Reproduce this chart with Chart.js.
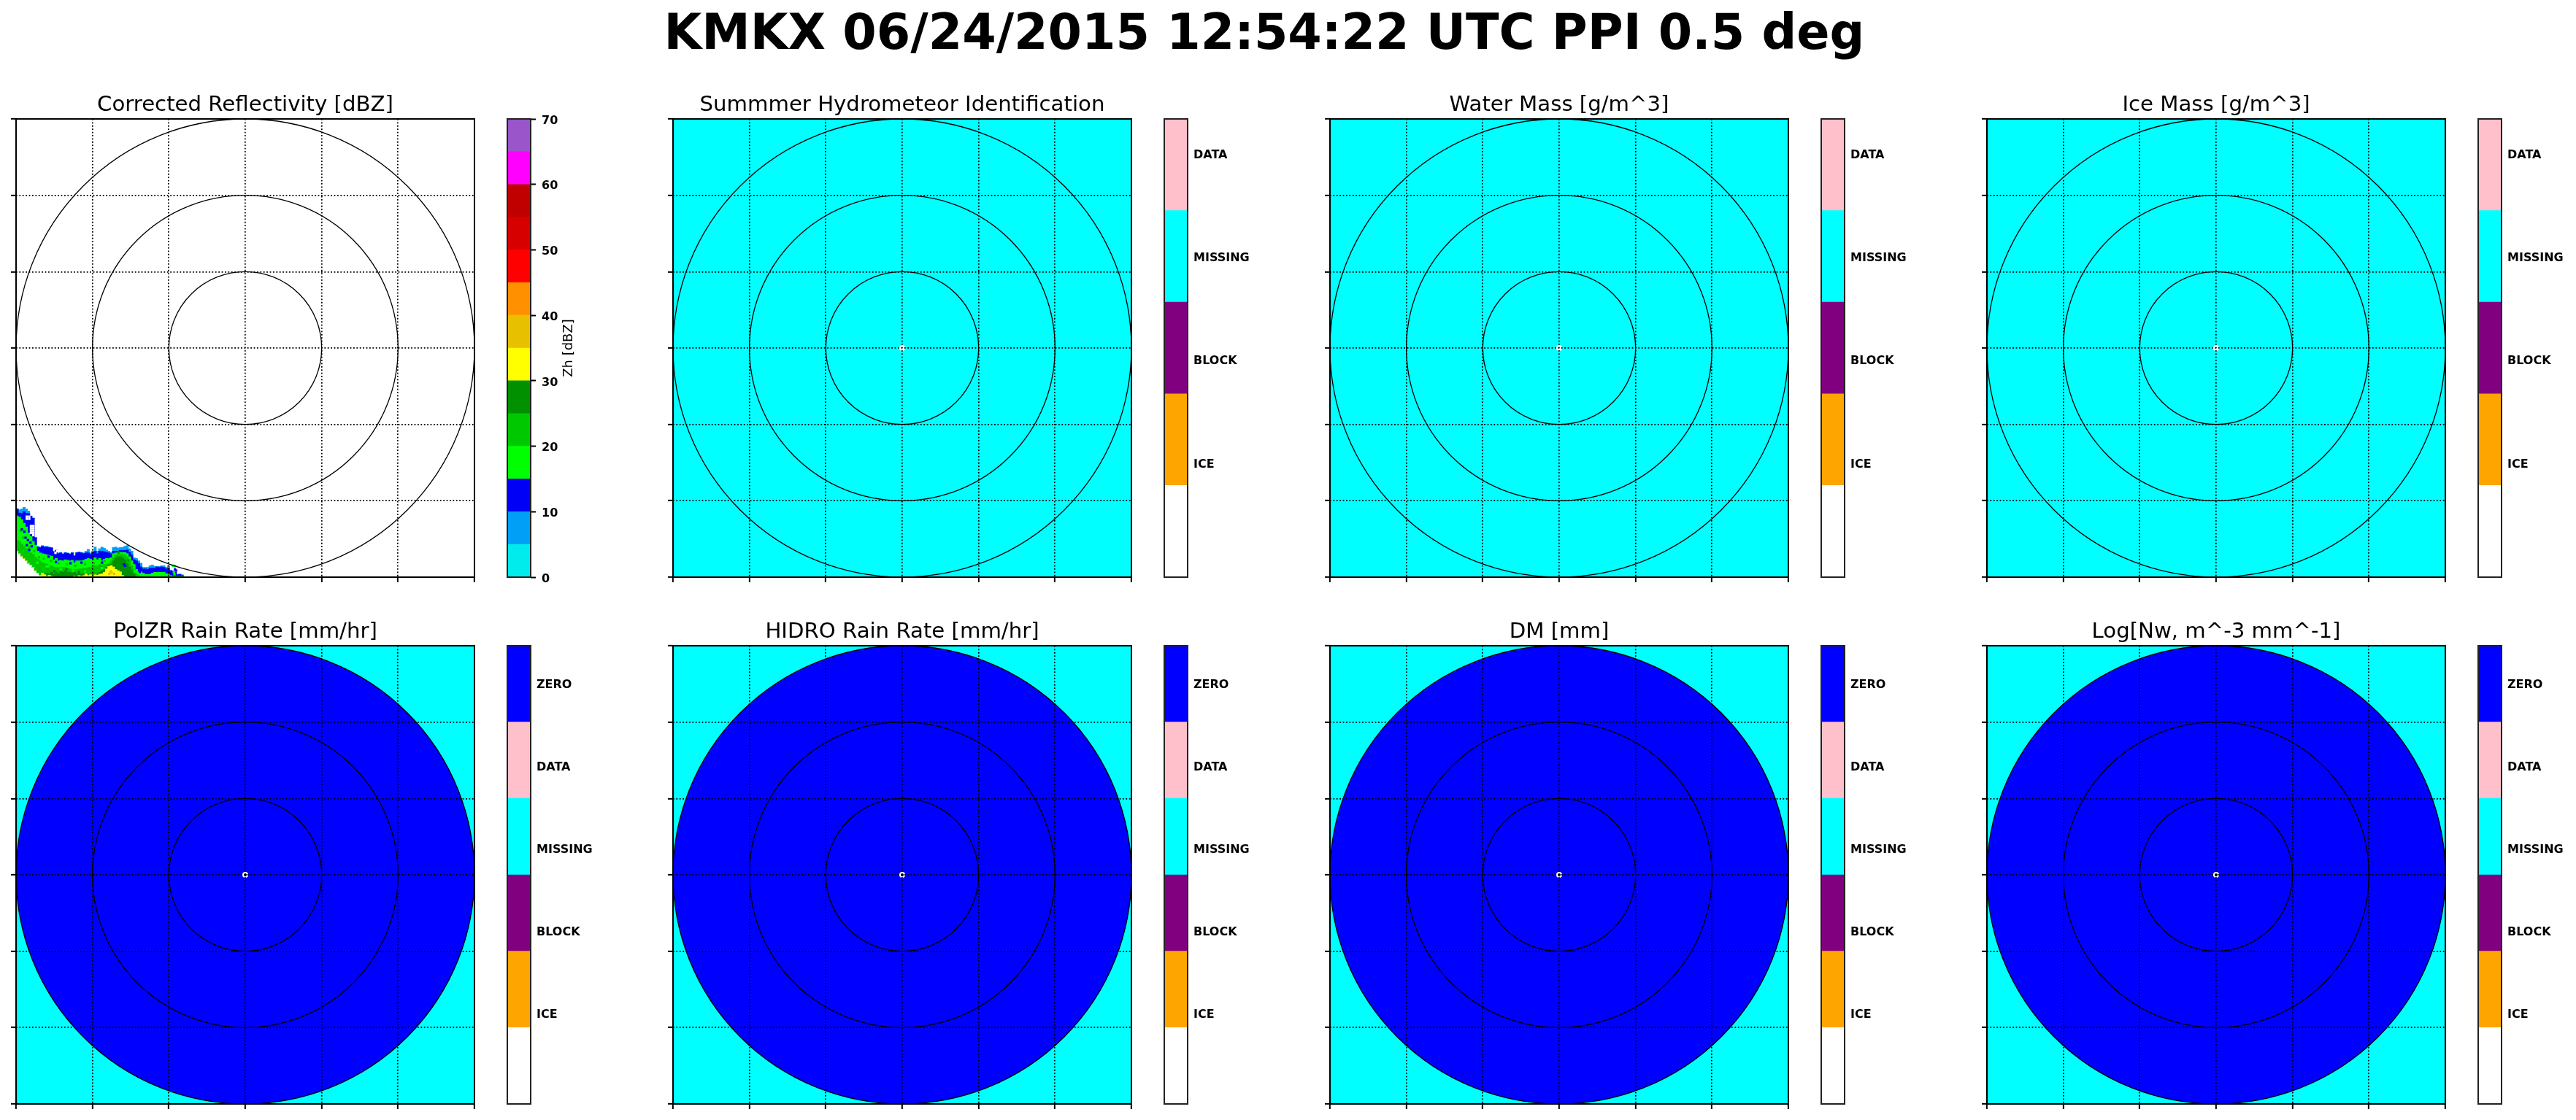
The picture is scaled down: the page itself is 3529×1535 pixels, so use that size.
<!DOCTYPE html>
<html>
<head>
<meta charset="utf-8">
<script src="https://cdn.jsdelivr.net/npm/chart.js@4"></script>
<style>
    html, body { margin: 0; padding: 0; background: #fff; width: 3529px; height: 1535px; overflow: hidden; }
    canvas { position: absolute; }
    #figTitle { position: absolute; left: 0; top: 4px; width: 3464px; text-align: center; font: bold 66.8px 'DejaVu Sans'; line-height: 80px; color: #000; white-space: nowrap; }
</style>
</head>
<body>
<div id="figTitle">KMKX 06/24/2015 12:54:22 UTC PPI 0.5 deg</div>
<script>
const panelTitles = [
    'Corrected Reflectivity [dBZ]', 'Summmer Hydrometeor Identification', 'Water Mass [g/m^3]', 'Ice Mass [g/m^3]',
    'PolZR Rain Rate [mm/hr]', 'HIDRO Rain Rate [mm/hr]', 'DM [mm]', 'Log[Nw, m^-3 mm^-1]'
];

// colorbar classes
const zLevels = [0, 5, 10, 15, 20, 25, 30, 35, 40, 45, 50, 55, 60, 65];
const hidLabels = ['ICE', 'BLOCK', 'MISSING', 'DATA'];
const hidTickValues = [1.25, 2.375, 3.5, 4.625];
const rainLabels = ['ICE', 'BLOCK', 'MISSING', 'DATA', 'ZERO'];
const rainTickValues = [1.19, 2.27, 3.35, 4.43, 5.51];

// range rings and grid, km
const axisTicks = [-150, -100, -50, 0, 50, 100, 150];
const ringRadii = [50, 100, 150];

// echo patch in the south west corner: for each column the top of each class, km north of the radar
const patchX = [
    -149.25, -147.75, -146.25, -144.75, -143.25, -141.75, -140.25, -138.75, -137.25, -135.75,
    -134.25, -132.75, -131.25, -129.75, -128.25, -126.75, -125.25, -123.75, -122.25, -120.75,
    -119.25, -117.75, -116.25, -114.75, -113.25, -111.75, -110.25, -108.75, -107.25, -105.75,
    -104.25, -102.75, -101.25, -99.75, -98.25, -96.75, -95.25, -93.75, -92.25, -90.75,
    -89.25, -87.75, -86.25, -84.75, -83.25, -81.75, -80.25, -78.75, -77.25, -75.75,
    -74.25, -72.75, -71.25, -69.75, -68.25, -66.75, -65.25, -63.75, -62.25, -60.75,
    -59.25, -57.75, -56.25, -54.75, -53.25, -51.75, -50.25, -48.75, -47.25, -45.75,
    -44.25, -42.75, -41.25
];
const patchFloor = [
    -133, -134.6, -136.2, -137.7, -139.3, -140.9, -142.2, -143.6, -145.7, -147.3,
    -148.9, -150, -150, -150, -150, -150, -150, -150, -150, -150,
    -150, -150, -150, -150, -150, -150, -150, -150, -150, -150,
    -150, -150, -150, -150, -150, -150, -150, -150, -150, -150,
    -150, -150, -150, -150, -150, -150, -150, -150, -150, -150,
    -150, -150, -150, -150, -150, -150, -150, -150, -150, -150,
    -150, -150, -150, -150, -150, -150, -150, -150, -150, -150,
    -150, -150, -150
];
const patchYellow = [
    -133, -134.6, -136.2, -137.7, -139.3, -140.9, -142.2, -143.6, -145.7, -147.3,
    -148.9, -147.3, -148.4, -149.4, -148.7, -149.4, -150, -150, -150, -150,
    -150, -150, -150, -150, -150, -149.4, -149.7, -149, -149.4, -149,
    -147.8, -148.9, -148.4, -149.2, -148.4, -148.7, -148.1, -147.8, -146.8, -144.6,
    -143, -142.4, -143.3, -144.9, -145.7, -146.5, -148.9, -150, -150, -150,
    -150, -150, -150, -150, -150, -150, -150, -150, -150, -150,
    -150, -150, -150, -150, -150, -150, -150, -150, -150, -150,
    -150, -150, -150
];
const patchDarkGreen = [
    -133, -134.6, -136.2, -137.7, -139.3, -140.9, -142.2, -143.6, -145.7, -147.3,
    -148.9, -147.3, -148.1, -147.3, -148.1, -146.8, -147.8, -146.5, -147.3, -146.2,
    -146.8, -145.7, -146.8, -146.5, -147.3, -146.8, -147.8, -147.3, -148.1, -147.8,
    -147.5, -148.1, -148.1, -147.3, -148.1, -147.8, -146.8, -145.7, -144.9, -143.6,
    -142, -141.4, -139.3, -137.3, -136.6, -136.6, -137.3, -138.6, -140.9, -143.3,
    -145.7, -148.1, -149.7, -150, -150, -150, -150, -150, -150, -150,
    -150, -150, -150, -150, -150, -150, -150, -150, -150, -150,
    -150, -150, -150
];
const patchGreen = [
    -125.8, -126.6, -128.2, -129.8, -131.4, -133, -134.1, -135, -137, -138.2,
    -139.3, -140.5, -140.9, -141.4, -142, -142.5, -143.3, -143.6, -143.6, -143.6,
    -143.6, -143.6, -144.1, -144.6, -144.9, -144.9, -144.9, -144.6, -144.6, -144.1,
    -144.1, -143.6, -143.3, -143.3, -142.5, -142.5, -141.7, -142, -141.7, -141.4,
    -140.9, -139.3, -137.3, -135.4, -135, -135, -135, -135.4, -136.6, -139.3,
    -142.5, -144.9, -147.8, -148.9, -149.7, -150, -150, -150, -150, -150,
    -150, -150, -150, -150, -150, -150, -150, -150, -150, -150,
    -150, -150, -150
];
const patchLime = [
    -109.9, -110.7, -112.3, -114.7, -117.1, -121.1, -123.4, -126.6, -129, -133,
    -134.1, -134.6, -135, -135.4, -135.7, -136.2, -138.6, -137.7, -139.3, -139,
    -139.3, -138.6, -138.9, -139.3, -138.9, -140.5, -139.3, -139.3, -139.3, -138.9,
    -138.2, -137.7, -138.2, -138.6, -137.3, -138.6, -137.7, -139.3, -138.2, -137.7,
    -137.7, -137.3, -134.6, -134.1, -133.8, -133.8, -133.8, -133.8, -134.6, -136.6,
    -139.3, -141.7, -144.9, -146.5, -146.5, -147.3, -148.1, -148.1, -148.1, -147.3,
    -146.8, -146.8, -146.8, -146.8, -146.8, -147.6, -148.1, -148.9, -149.4, -149.4,
    -149.4, -149.4, -149.4
];
const patchBlue = [
    -105.4, -108, -108.3, -107, -108.3, -108.3, -110.2, -111.5, -124.2, -130.3,
    -130.6, -129.8, -130.3, -130.3, -130.6, -130.9, -133.4, -132.5, -134.6, -134.1,
    -135, -134.1, -134.4, -135, -134.1, -136.2, -134.1, -133.8, -134.1, -134.6,
    -134.1, -134.1, -135, -133.8, -133, -134.6, -133, -133, -133.4, -133.8,
    -134.1, -134.6, -133, -133, -133, -132.5, -132.5, -132.5, -132.2, -133.8,
    -135.4, -138.6, -139.3, -140.9, -143.3, -144.6, -144.6, -144.9, -144.1, -144.1,
    -144.1, -143.3, -143.6, -143.3, -143.6, -144.6, -144.1, -145.7, -146, -146.8,
    -148.4, -148.1, -148.9
];
const patchSky = [
    -105.1, -105.9, -105.4, -104.3, -105.4, -106.7, -109.9, -111.2, -123.9, -129.8,
    -130.3, -129.3, -129.8, -129.8, -130.3, -130.6, -133, -132.2, -134.1, -133.8,
    -134.6, -133.8, -134.1, -134.6, -133.8, -135.7, -133.8, -133.4, -133.8, -134.1,
    -133, -131.8, -134.1, -133, -130.3, -133, -131.4, -130.3, -131.1, -132.2,
    -133, -133.8, -130.6, -130.3, -130.9, -130.6, -130.6, -129.8, -129.3, -131.4,
    -133, -137.3, -137.7, -139.3, -140.9, -143.6, -143.6, -143.6, -142.5, -142,
    -143, -143, -143, -142.5, -142.5, -143.6, -142.5, -145.5, -146, -146.5,
    -148.1, -148.1, -148.4
];

// single cells that break up the bands: [x km, y km]
const speckBlue = [
    [-143.8, -124.2], [-142.2, -125.8], [-140.6, -127.4], [-144.6, -120.3], [-143, -129], [-139.8, -129.8],
    [-146.2, -118.7], [-141.4, -132.2], [-79.4, -141.7], [-78.6, -142.5], [-69, -146.5], [-45.2, -145.7], [-46, -144.9],
    [-123.9, -140.1], [-114.4, -140.9], [-107.2, -140.5], [-93.7, -140.5], [-128.7, -136.6]
];
const speckLime = [
    [-120.7, -144.9], [-112.8, -145.7], [-104.8, -146.2], [-93.7, -144.1], [-128.6, -142.8], [-47.3, -142.5],
    [-46, -142.8], [-46.3, -148.1], [-46.7, -146.8], [-72.5, -146], [-136, -140.5], [-130, -143]
];
const speckGreen = [
    [-147, -119.5], [-145.4, -124.2], [-146.2, -129], [-143.8, -132.2], [-141.4, -130.6], [-138.2, -133],
    [-135, -137], [-131.9, -137.8], [-127.1, -139.3], [-122.3, -140.9], [-116.8, -141.7], [-111.2, -142.5],
    [-104.8, -141.4], [-99.3, -140.9], [-92.1, -139.3]
];
const speckGold = [[-88.9, -147.8], [-87.4, -147], [-85.8, -147.8], [-88.1, -146.2]];
const speckDarkGreen = [[-125, -146], [-117, -144.8], [-109, -146.6], [-83, -133.9], [-76.5, -139]];
const speckEmpty = [
    [-143, -110.4], [-141.4, -110.4], [-143, -111.8], [-141.4, -111.8], [-124.2, -134.1], [-123.1, -133],
    [-140.25, -116.5], [-140.25, -118], [-140.25, -119.5], [-140.25, -121],
    [-138.75, -116.5], [-138.75, -118], [-138.75, -119.5], [-138.75, -121], [-138.75, -122.5]
];

const FONT = "'DejaVu Sans'";
const zColors = ['#00ecec', '#01a0f6', '#0000f6', '#00ff00', '#00c800', '#009000', '#ffff00', '#e7c000', '#ff9000', '#ff0000', '#d60000', '#c00000', '#ff00ff', '#9955c9'];
const hidColors = ['#ffffff', '#ffa500', '#800080', '#00ffff', '#ffc0cb'];
const rainColors = ['#ffffff', '#ffa500', '#800080', '#00ffff', '#ffc0cb', '#0000ff'];

const PANEL_SIZE = 628;
const COL_LEFT = [22, 922, 1822, 2722];
const ROW_TOP = [162.7, 885];
const MARGIN = 16;
const TITLE_HEIGHT = 44;
const BAR_PAD = 12;

function addCanvas(left, top, width, height) {
    const canvas = document.createElement('canvas');
    canvas.width = width;
    canvas.height = height;
    canvas.style.left = left + 'px';
    canvas.style.top = top + 'px';
    canvas.style.width = width + 'px';
    canvas.style.height = height + 'px';
    document.body.appendChild(canvas);
    return canvas;
}

// field colour, blue disc, range rings and the frame, all placed with the chart scales
const radarPlugin = {
    id: 'radarPanel',
    beforeDraw(chart, args, opts) {
        const { ctx, chartArea: a, scales: { x, y } } = chart;
        ctx.save();
        ctx.fillStyle = opts.field;
        ctx.fillRect(a.left, a.top, a.width, a.height);
        if (opts.disc) {
            ctx.fillStyle = opts.disc;
            ctx.beginPath();
            ctx.arc(x.getPixelForValue(0), y.getPixelForValue(0), x.getPixelForValue(150) - x.getPixelForValue(0), 0, Math.PI * 2);
            ctx.fill();
        }
        ctx.restore();
    },
    afterDraw(chart) {
        const { ctx, chartArea: a, scales: { x, y } } = chart;
        ctx.save();
        ctx.strokeStyle = '#000';
        ctx.lineWidth = 1.3;
        ringRadii.forEach(r => {
            ctx.beginPath();
            ctx.arc(x.getPixelForValue(0), y.getPixelForValue(0), x.getPixelForValue(r) - x.getPixelForValue(0), 0, Math.PI * 2);
            ctx.stroke();
        });
        ctx.lineWidth = 2;
        ctx.strokeRect(a.left, a.top, a.width, a.height);
        ctx.restore();
    }
};

const framePlugin = {
    id: 'barFrame',
    afterDraw(chart, args, opts) {
        const { ctx, chartArea: a } = chart;
        ctx.save();
        ctx.strokeStyle = '#222';
        ctx.lineWidth = 2;
        ctx.strokeRect(a.left, a.top, a.width, a.height);
        if (opts.label) {
            ctx.translate(a.right + 52, (a.top + a.bottom) / 2);
            ctx.rotate(-Math.PI / 2);
            ctx.fillStyle = '#000';
            ctx.font = '18px ' + FONT;
            ctx.textAlign = 'center';
            ctx.textBaseline = 'middle';
            ctx.fillText(opts.label, 0, 0);
        }
        ctx.restore();
    }
};

function patchDatasets() {
    const bands = [
        [patchFloor, patchYellow, '#ffff00'],
        [patchYellow, patchDarkGreen, '#009000'],
        [patchDarkGreen, patchGreen, '#00c800'],
        [patchGreen, patchLime, '#00ff00'],
        [patchLime, patchBlue, '#0000f6'],
        [patchBlue, patchSky, '#01a0f6']
    ];
    const sets = bands.map(([low, high, color]) => ({
        type: 'bar',
        grouped: false,
        barThickness: 3.3,
        borderWidth: 0,
        backgroundColor: color,
        order: 1,
        data: patchX.map((x, i) => ({ x: x, y: [low[i], high[i]] }))
    }));
    const specks = [
        [speckBlue, '#0000f6'], [speckLime, '#00ff00'], [speckGreen, '#00c800'], [speckGold, '#e7c000'],
        [speckDarkGreen, '#009000'], [speckEmpty, '#ffffff']
    ];
    specks.forEach(([cells, color]) => {
        // lower order is drawn later, so the cells land on top of the bands
        sets.push({
            type: 'scatter',
            pointStyle: 'rect',
            pointRadius: 2.3,
            pointBorderWidth: 0,
            backgroundColor: color,
            order: 0,
            data: cells.map(c => ({ x: c[0], y: c[1] }))
        });
    });
    return sets;
}

function initPanel(index) {
    const col = index % 4;
    const row = Math.floor(index / 4);
    const canvas = addCanvas(COL_LEFT[col] - MARGIN, ROW_TOP[row] - TITLE_HEIGHT, PANEL_SIZE + 2 * MARGIN, TITLE_HEIGHT + PANEL_SIZE + MARGIN);
    let datasets;
    if (index === 0) {
        datasets = patchDatasets();
    } else {
        datasets = [{
            type: 'scatter',
            data: [{ x: 0, y: 0 }],
            pointRadius: 3,
            pointBorderWidth: 2,
            pointBorderColor: '#ffffff',
            pointBackgroundColor: row === 0 ? '#ffffff' : '#000000'
        }];
    }
    const axis = (isY) => ({
        type: 'linear',
        min: -150,
        max: 150,
        offset: false,
        afterBuildTicks: s => { s.ticks = axisTicks.map(v => ({ value: v })); },
        afterFit: s => { if (isY) { s.width = 0; } else { s.height = MARGIN; } },
        ticks: { display: false, autoSkip: false },
        border: { display: false, dash: [1.8, 2.6] },
        grid: { z: 1, offset: false, color: '#000', lineWidth: 1.7, tickColor: '#000', tickWidth: 2, tickLength: 7, tickBorderDash: [] }
    });
    new Chart(canvas, {
        type: 'scatter',
        data: { datasets: datasets },
        plugins: [radarPlugin],
        options: {
            responsive: false,
            animation: false,
            devicePixelRatio: 1,
            layout: { padding: { left: MARGIN, right: MARGIN } },
            scales: { x: axis(false), y: axis(true) },
            plugins: {
                legend: { display: false },
                tooltip: { enabled: false },
                title: {
                    display: true,
                    text: panelTitles[index],
                    color: '#000',
                    font: { family: FONT, size: 29.2, weight: 'normal', lineHeight: 1.2 },
                    padding: { top: 8, bottom: TITLE_HEIGHT - 35 - 8 }
                },
                radarPanel: {
                    field: index === 0 ? '#ffffff' : '#00ffff',
                    disc: row === 1 ? '#0000ff' : null
                }
            }
        }
    });
}

function initColorbar(index) {
    const col = index % 4;
    const row = Math.floor(index / 4);
    const width = 125;
    const canvas = addCanvas(COL_LEFT[col] + 671, ROW_TOP[row] - BAR_PAD, width, PANEL_SIZE + 2 * BAR_PAD);
    const isZ = index === 0;
    const colors = isZ ? zColors : (row === 0 ? hidColors : rainColors);
    const tickValues = isZ ? null : (row === 0 ? hidTickValues : rainTickValues);
    const tickLabels = row === 0 ? hidLabels : rainLabels;
    const datasets = colors.map((color, i) => ({
        label: isZ ? String(zLevels[i]) : 'class ' + i,
        data: [isZ ? 5 : 1],
        backgroundColor: color,
        borderWidth: 0,
        barPercentage: 1,
        categoryPercentage: 1
    }));
    new Chart(canvas, {
        type: 'bar',
        data: { labels: [''], datasets: datasets },
        plugins: [framePlugin],
        options: {
            responsive: false,
            animation: false,
            devicePixelRatio: 1,
            layout: { padding: { left: 2, top: BAR_PAD, bottom: BAR_PAD } },
            scales: {
                x: { display: false, stacked: true },
                y: {
                    position: 'right',
                    stacked: true,
                    min: 0,
                    max: isZ ? 70 : colors.length,
                    afterBuildTicks: s => { if (!isZ) { s.ticks = tickValues.map(v => ({ value: v })); } },
                    afterFit: s => {
                        s.width = width - 2 - 32;
                        s.paddingTop = 0;
                        s.paddingBottom = 0;
                    },
                    border: { display: false },
                    grid: { drawOnChartArea: false, drawTicks: isZ, tickLength: 7, tickColor: '#000', tickWidth: 2 },
                    ticks: {
                        autoSkip: false,
                        stepSize: 10,
                        padding: 8,
                        labelOffset: 2.5,
                        color: '#000',
                        font: { family: FONT, size: 16, weight: 'bold' },
                        callback: (value, i) => (isZ ? value : tickLabels[i])
                    }
                }
            },
            plugins: {
                legend: { display: false },
                tooltip: { enabled: false },
                title: { display: false },
                barFrame: { label: isZ ? 'Zh [dBZ]' : '' }
            }
        }
    });
}

document.addEventListener('DOMContentLoaded', function () {
    panelTitles.forEach((title, i) => {
        initPanel(i);
        initColorbar(i);
    });
});
</script>
</body>
</html>
